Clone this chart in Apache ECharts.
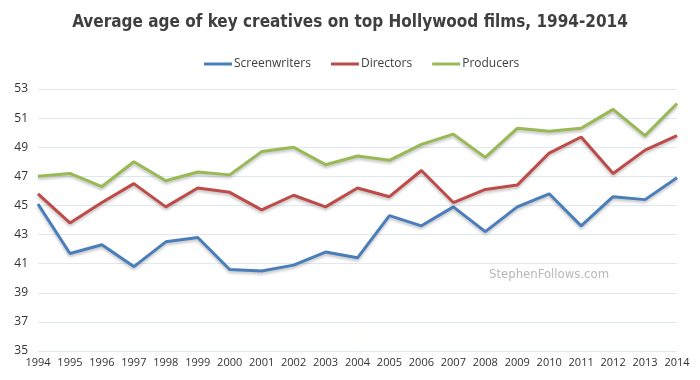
<!DOCTYPE html>
<html>
<head>
<meta charset="utf-8">
<script src="https://cdn.jsdelivr.net/npm/echarts@6/dist/echarts.min.js"></script>
<style>html,body{margin:0;padding:0;background:#fff}#c{width:700px;height:380px}</style>
</head>
<body>
<div id="c"></div>
<script>
var years = ['1994','1995','1996','1997','1998','1999','2000','2001','2002','2003','2004','2005','2006','2007','2008','2009','2010','2011','2012','2013','2014'];
var screenwriters = [45.1,41.7,42.3,40.8,42.5,42.8,40.6,40.5,40.9,41.8,41.4,44.3,43.6,44.9,43.2,44.9,45.8,43.6,45.6,45.4,46.9];
var directors = [45.8,43.8,45.2,46.5,44.9,46.2,45.9,44.7,45.7,44.9,46.2,45.6,47.4,45.2,46.1,46.4,48.6,49.7,47.2,48.8,49.8];
var producers = [47.0,47.2,46.3,48.0,46.7,47.3,47.1,48.7,49.0,47.8,48.4,48.1,49.2,49.9,48.3,50.3,50.1,50.3,51.6,49.8,52.0];
var seriesNames = ['Screenwriters','Directors','Producers'];
var colors = ['#4a7ebb','#be4b48','#98b954'];

var chart = echarts.init(document.getElementById('c'), null, {renderer:'canvas'});
function mk(name, data, color){
  return {
    name: name, type: 'line', data: data, symbol: 'none', smooth: false,
    lineStyle: {width: 3, color: color, shadowColor: 'rgba(0,0,0,0.25)', shadowBlur: 3, shadowOffsetY: 2},
    itemStyle: {color: color}
  };
}
var condensed = "'DejaVu Sans Condensed', 'Liberation Sans Narrow', sans-serif";
chart.setOption({
  animation: false,
  title: {
    text: 'Average age of key creatives on top Hollywood films, 1994-2014',
    left: 'center', top: 9,
    textStyle: {fontFamily: condensed, fontWeight: 'bold', fontSize: 17, color: '#3f3f3f'}
  },
  legend: {
    top: 53, left: 199,
    itemWidth: 28, itemHeight: 3, itemGap: 20,
    icon: 'rect',
    textStyle: {fontFamily: 'Open Sans', fontSize: 12, color: '#404040', padding: [0,0,0,-3]},
    data: seriesNames
  },
  grid: {left: 38, right: 23, top: 89, bottom: 29},
  xAxis: {
    type: 'category', data: years, boundaryGap: false,
    axisLine: {show: false}, axisTick: {show: false},
    axisLabel: {fontFamily: 'Open Sans', fontSize: 11, color: '#333', margin: 6, interval: 0},
    splitLine: {show: false}
  },
  yAxis: {
    type: 'value', min: 35, max: 53, interval: 2,
    axisLine: {show: false}, axisTick: {show: false},
    axisLabel: {fontFamily: 'Open Sans', fontSize: 12, color: '#333', margin: 10},
    splitLine: {lineStyle: {color: '#dfe8f0', width: 1}}
  },
  graphic: [{
    type: 'text', left: 489, top: 268,
    style: {text: 'StephenFollows.com', fontFamily: condensed, fontSize: 13, fill: '#b8b8b8'}
  }],
  series: [
    mk(seriesNames[0], screenwriters, colors[0]),
    mk(seriesNames[1], directors, colors[1]),
    mk(seriesNames[2], producers, colors[2])
  ]
});
</script>
</body>
</html>
